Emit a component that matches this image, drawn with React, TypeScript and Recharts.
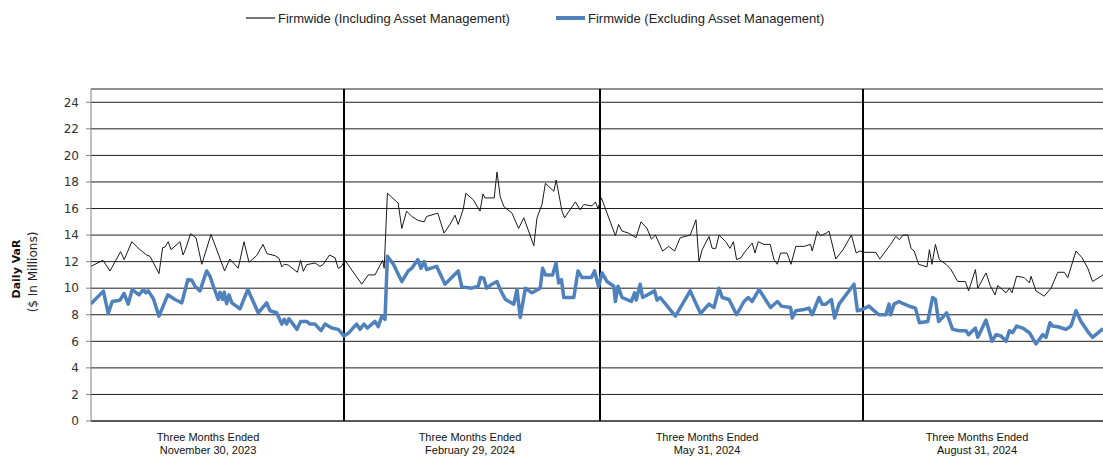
import React from 'react';
import { LineChart, Line, XAxis, YAxis, CartesianGrid, ReferenceLine } from 'recharts';

// [trading-day index, daily VaR ($ millions)]
const inclSeries: [number, number][] = [
  [0,11.65],[3,12.1],[4.75,11.3],[7.4,12.75],[8.3,12.15],[10.2,13.5],[12.25,12.9],[13.9,12.5],[14.75,12.4],[17,11.1],[17.9,13.05],[18.5,13.1],[19.3,13.5],[20,12.9],[22.25,13.5],[23,12.5],[23.6,12.9],[24.9,14.1],[26.25,13.8],[27.7,11.8],[30,14.05],[33.4,11.3],[34.7,12.2],[35.6,11.9],[36.8,11.5],[38.25,13.5],[39.5,11.95],[41.4,12.45],[43,13.3],[44,12.6],[46,12.45],[47,12.25],[47.7,11.6],[48.3,11.8],[49.3,11.75],[51.6,11.2],[52.4,12.1],[53.1,11.27],[53.9,11.77],[56,11.9],[57.25,11.64],[58.1,11.8],[59.6,12.5],[61,12.3],[61.8,11.5],[62.5,11.6],[63.5,12.1],
  [67.7,10.3],[69.3,11.0],[71,11.0],[72.9,12.1],[73.3,11.5],[74.1,17.15],[76.8,16.4],[77.7,14.5],[78.9,15.8],[80.2,15.4],[81.8,15.1],[83.3,15.0],[83.9,15.4],[86.7,15.65],[88.25,14.15],[89.75,14.8],[91,15.5],[91.8,14.8],[93.1,16.0],[93.7,17.15],[95.6,16.65],[97.25,15.8],[98,17.1],[98.5,16.8],[100.8,16.8],[101.5,18.75],[102.3,16.9],[103.2,16.15],[105.25,15.65],[106.9,14.5],[108.2,15.3],[109.4,14.3],[110.7,13.2],[111.5,15.3],[112.75,16.3],[113.6,17.9],[115.7,17.3],[116.3,18.15],[117.75,15.8],[118.4,15.3],[121.1,16.5],[122.3,15.9],[123.2,16.3],[125.25,16.2],[126.1,16.5],[126.75,16.0],[127.6,16.8],
  [131.1,13.95],[131.9,14.8],[132.75,14.3],[134.4,14.15],[136.25,13.8],[137.5,15.0],[139,14.5],[140.1,13.7],[141.1,14.0],[142.9,12.8],[144.4,13.15],[145.9,12.8],[147.3,13.8],[149.8,14.0],[151.25,15.15],[152,12.0],[152.8,12.9],[154.5,13.9],[155.3,13.0],[156.2,13.0],[157,14.0],[158.7,13.5],[159.75,13.0],[160.6,13.5],[161.4,12.15],[162.5,12.3],[163.25,12.65],[165.3,13.4],[166,12.65],[166.8,13.5],[168.25,13.3],[169.8,13.3],[170.75,12.15],[171.6,11.8],[172.4,12.65],[174,12.65],[175,11.8],[176.2,13.15],[178.3,13.15],[179.9,13.3],[180.3,12.8],[181.6,14.3],[182.4,13.95],[183.8,14.15],[184.5,14.3],[186.2,12.2],[188,12.9],[190.1,14.0],[191.3,12.65],[192.2,12.8],
  [193.5,12.7],[196.2,12.7],[197.2,12.2],[199.9,13.3],[201.2,13.9],[202.1,13.65],[203,14.0],[204.2,14.0],[205,13.0],[205.8,12.8],[206.9,11.8],[209,11.6],[209.6,12.9],[210.25,11.8],[211.1,13.3],[212.1,12.15],[213.75,11.8],[215,11.4],[216.7,10.5],[218.6,10.5],[219.4,9.8],[221.1,11.4],[221.7,10.0],[223.75,11.15],[224.8,10.2],[226,9.5],[226.7,10.2],[228.75,9.65],[229.6,10.0],[230.25,9.65],[231.4,10.9],[233.3,10.8],[234.6,10.4],[235,10.9],[236.25,9.8],[238.3,9.4],[240,10.0],[241.7,11.2],[243.3,11.2],[244.2,10.8],[246.25,12.8],[247.75,12.3],[249.2,11.5],[250.4,10.5],[253,11.0],
];

const exclSeries: [number, number][] = [
  [0,8.83],[3.1,9.78],[4.3,8.1],[5.3,9.0],[7.25,9.1],[8.25,9.6],[9.3,8.8],[10.3,9.9],[12,9.5],[13.1,9.9],[13.7,9.65],[14.3,9.8],[15.6,9.2],[17,7.9],[19.2,9.5],[21,9.15],[22.7,8.9],[24.2,10.65],[25.2,10.6],[26,10.15],[27.25,9.8],[28.9,11.3],[29.75,10.9],[30.6,10.15],[31.8,9.15],[32.25,9.7],[32.9,9.15],[33.3,9.7],[33.9,8.83],[34.5,9.5],[35.2,8.9],[37.25,8.45],[39.2,9.9],[41.8,8.15],[43.9,8.9],[44.75,8.3],[46.4,8.15],[47.7,7.3],[48.3,7.65],[48.9,7.3],[49.5,7.7],[51.5,6.9],[52.4,7.5],[53.9,7.5],[54.75,7.3],[56,7.3],[57.5,6.8],[58.5,7.3],[60.2,7.0],[61.8,6.9],[62.7,6.6],[63.2,6.4],
  [64.3,6.6],[66.4,7.3],[67.25,6.9],[68.25,7.3],[69.1,7.0],[71,7.5],[71.8,7.1],[72.7,7.9],[73.5,7.65],[74.1,12.4],[75.6,11.8],[77.7,10.5],[79.3,11.3],[80.2,11.5],[81.7,12.15],[82.5,11.5],[83.3,12.0],[83.9,11.4],[86.4,11.65],[88.5,10.3],[91.8,11.3],[92.7,10.1],[95.2,10.0],[96.8,10.15],[97.4,10.8],[98.2,10.75],[98.9,10.0],[100.25,10.3],[101.5,10.5],[102.3,9.9],[103.6,9.15],[105.7,8.8],[106.5,9.9],[107.3,7.8],[108.6,10.0],[110.25,9.65],[112.3,10.0],[112.9,11.5],[113.6,11.0],[115.4,11.0],[116.25,11.9],[116.9,10.4],[117.6,10.65],[118.2,9.3],[120.7,9.3],[121.75,11.3],[122.75,10.8],[125.1,10.8],[125.9,11.3],[126.9,10.1],[127.75,11.15],
  [129,10.5],[130.7,10.15],[131.1,9.0],[131.75,10.15],[132.75,9.3],[135.1,9.0],[135.9,9.65],[136.3,9.1],[137.3,10.3],[137.9,9.3],[140.9,9.8],[141.5,9.1],[142.3,9.3],[146.1,7.9],[149.8,9.8],[151,9.0],[152.4,8.1],[154.5,8.8],[155.75,8.55],[157,10.0],[157.8,9.3],[159.5,9.15],[161.4,8.0],[163.25,9.0],[164.3,9.3],[165.3,9.0],[167,9.9],[169.9,8.55],[171.6,9.0],[172.6,8.65],[174.9,8.55],[175.3,7.75],[176.2,8.3],[178.25,8.4],[179.5,8.5],[180.3,8.0],[182,9.3],[182.8,8.8],[183.7,8.8],[185.1,9.15],[185.9,7.75],[187,8.8],[190.75,10.3],[191.6,8.3],[192.8,8.4],
  [194.5,8.65],[195.6,8.35],[197,8.0],[198.7,8.0],[199.5,8.8],[199.9,8.0],[200.75,8.8],[202,9.0],[202.6,8.9],[205,8.6],[206.1,8.5],[207.1,7.4],[209.2,7.5],[210.4,9.3],[211.1,9.15],[211.9,7.5],[212.9,7.8],[213.9,8.15],[215.4,6.9],[217.1,6.8],[218.75,6.8],[219.4,6.5],[221.1,7.0],[221.7,6.3],[223.75,7.6],[225.25,6.0],[226.25,6.5],[227.5,6.4],[228.75,6.0],[229.6,6.8],[230.4,6.65],[231.4,7.15],[232.9,7.0],[234.6,6.65],[236.25,5.8],[237.9,6.5],[238.75,6.3],[239.75,7.4],[240.4,7.15],[241.7,7.1],[243.75,6.9],[245,7.15],[246.25,8.3],[247.5,7.5],[249.4,6.65],[250.4,6.3],[253,6.95],
];

const yTicks = [0, 2, 4, 6, 8, 10, 12, 14, 16, 18, 20, 22, 24];
const quarterBoundaryDays = [63.25, 127.25, 193];
const quarterLabelDays = [29.25, 94.75, 154, 221.5];
const quarterEndDates = ['November 30, 2023', 'February 29, 2024', 'May 31, 2024', 'August 31, 2024'];
const seriesNames = ['Firmwide (Including Asset Management)', 'Firmwide (Excluding Asset Management)'];
const seriesColors = ['#1a1a1a', '#4F81BD'];

const inclData = inclSeries.map(([day, value]) => ({ day, value }));
const exclData = exclSeries.map(([day, value]) => ({ day, value }));

const LABEL_FONT = '"Liberation Sans", Arial, sans-serif';
const AXIS_FONT = '"DejaVu Sans", Verdana, sans-serif';

const QuarterTick = (props: any) => {
  const { x, y, payload } = props;
  const i = quarterLabelDays.indexOf(payload.value);
  return (
    <g>
      <text x={x} y={y + 20} textAnchor="middle" fontSize={11} fontFamily={LABEL_FONT} fill="#111">
        Three Months Ended
      </text>
      <text x={x} y={y + 33} textAnchor="middle" fontSize={11} fontFamily={LABEL_FONT} fill="#111">
        {quarterEndDates[i]}
      </text>
    </g>
  );
};

const YTitle = () => (
  <g>
    <text x={20} y={269} transform="rotate(-90 20 269)" textAnchor="middle" fontSize={11} fontWeight="bold" fontFamily={AXIS_FONT} fill="#111">
      Daily VaR
    </text>
    <text x={37} y={272} transform="rotate(-90 37 272)" textAnchor="middle" fontSize={12} fontFamily={AXIS_FONT} fill="#222">
      ($ In Millions)
    </text>
  </g>
);

export default function App() {
  return (
    <div style={{ position: 'absolute', left: 0, top: 0, width: 1103, height: 456, background: '#fff', overflow: 'hidden' }}>
      <svg width={1103} height={40} style={{ position: 'absolute', left: 0, top: 0 }}>
        <line x1={246} x2={275} y1={18} y2={18} stroke={seriesColors[0]} strokeWidth={1.2} />
        <text x={278} y={22.5} fontSize={13} fontFamily={LABEL_FONT} fill="#222">{seriesNames[0]}</text>
        <line x1={556} x2={585} y1={18} y2={18} stroke={seriesColors[1]} strokeWidth={4} />
        <text x={588} y={22.5} fontSize={13} fontFamily={LABEL_FONT} fill="#222">{seriesNames[1]}</text>
      </svg>
      <div style={{ position: 'absolute', left: 0, top: 0 }}>
        <LineChart width={1103} height={456} margin={{ top: 89, right: 0, left: 0, bottom: 0 }}>
          <CartesianGrid horizontal vertical={false} stroke="#1f1f1f" strokeWidth={1} />
          <XAxis
            dataKey="day"
            type="number"
            domain={[0, 253]}
            allowDataOverflow
            ticks={quarterLabelDays}
            interval={0}
            height={35}
            tickLine={false}
            tickSize={0}
            tickMargin={0}
            axisLine={{ stroke: '#222', strokeWidth: 1 }}
            tick={<QuarterTick />}
          />
          <YAxis
            type="number"
            domain={[0, 25]}
            ticks={yTicks}
            interval={0}
            width={91}
            tickSize={5}
            tickMargin={7}
            axisLine={{ stroke: '#808080' }}
            tickLine={{ stroke: '#808080' }}
            tick={{ fontSize: 12, fontFamily: AXIS_FONT, fill: '#333' }}
            label={() => <YTitle />}
          />
          {quarterBoundaryDays.map((d) => (
            <ReferenceLine key={d} x={d} stroke="#000" strokeWidth={2} />
          ))}
          <Line
            data={inclData}
            dataKey="value"
            name={seriesNames[0]}
            type="linear"
            stroke={seriesColors[0]}
            strokeWidth={1}
            dot={false}
            isAnimationActive={false}
          />
          <Line
            data={exclData}
            dataKey="value"
            name={seriesNames[1]}
            type="linear"
            stroke={seriesColors[1]}
            strokeWidth={3.5}
            strokeLinejoin="round"
            dot={false}
            isAnimationActive={false}
          />
        </LineChart>
      </div>
    </div>
  );
}
